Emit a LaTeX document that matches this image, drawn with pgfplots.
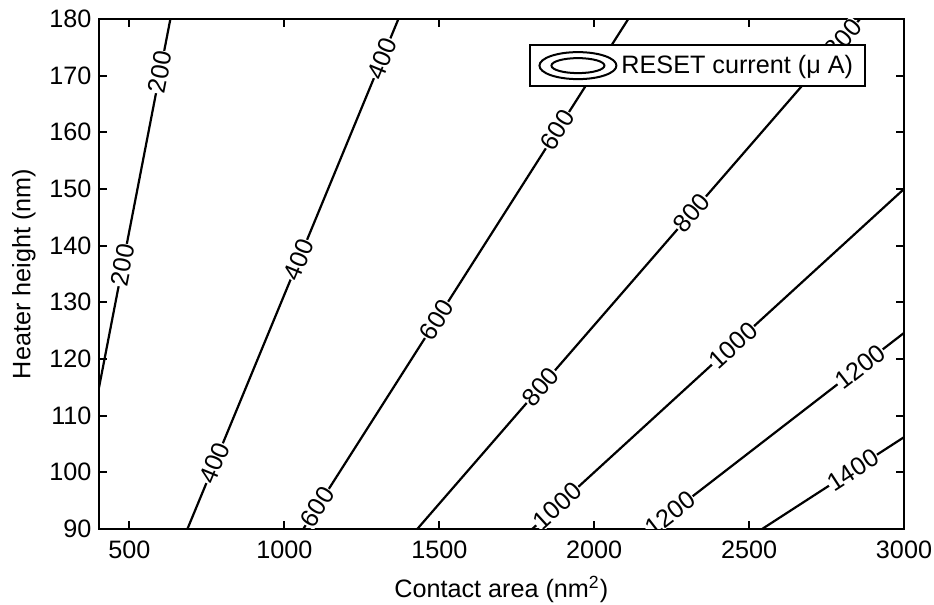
\documentclass[border=0pt]{standalone}
\usepackage{fontspec}
\setmainfont{Liberation Sans}
\usepackage{pgfplots}
\pgfplotsset{compat=1.18}
\tikzset{
  contour/.style={black, line width=1.1pt},
  lab/.style={sloped, fill=white, inner sep=0.2pt, font=\fontsize{12.6}{14}\selectfont},
}
\begin{document}
\begin{tikzpicture}
\begin{axis}[name=ax, scale only axis, width=402.75pt, height=255pt,
  xmin=400, xmax=3000, ymin=90, ymax=180,
  xtick={500,1000,1500,2000,2500,3000}, ytick={90,100,...,180},
  tick align=inside, major tick length=4pt,
  axis line style={line width=1pt},
  major tick style={line width=1pt, black},
  /pgf/number format/assume math mode=true,
  /pgf/number format/set thousands separator={},
  tick label style={font=\fontsize{12.6}{14}\selectfont},
  xticklabel style={yshift=-2.5pt},
  label style={font=\fontsize{12.6}{14}\selectfont},
  xlabel={Contact area (nm\textsuperscript{2})},
  xlabel style={yshift=-2pt},
  ylabel={Heater height (nm)},
  legend style={at={(1,1)}, anchor=north east, xshift=-19pt, yshift=-12.5pt,
    draw=black, line width=1pt, fill=white, font=\fontsize{12.6}{14}\selectfont,
    inner xsep=4pt, inner ysep=3pt},
  legend cell align=left,
  legend image code/.code={
    \draw[line width=1pt] (19.25pt,0pt) ellipse [x radius=19.25pt, y radius=6.75pt];
    \draw[line width=1pt] (19.25pt,0pt) ellipse [x radius=13.25pt, y radius=3.75pt];
  },
]
\addplot[contour] coordinates {(400,114.5) (632,180)}
  node[lab,pos=0.337]{200} node[lab,pos=0.857]{200};
\addlegendentry{RESET current (μ A)}
\addplot[contour, forget plot] coordinates {(687,90) (1368,180)}
  node[lab,pos=0.129]{400} node[lab,pos=0.528]{400} node[lab,pos=0.923]{400};
\addplot[contour, forget plot] coordinates {(1061,90) (2110,180)}
  node[lab,pos=0.043]{600} node[lab,pos=0.41]{600} node[lab,pos=0.782]{600};
\addplot[contour, forget plot] coordinates {(1429,90) (2858,180)}
  node[lab,pos=0.279]{800} node[lab,pos=0.62]{800} node[lab,pos=0.962]{800};
\addplot[contour, forget plot] coordinates {(1800,90) (3000,150)}
  node[lab,pos=0.0675]{1000} node[lab,pos=0.54]{1000};
\addplot[contour, forget plot] coordinates {(2181,90) (3000,124.6)}
  node[lab,pos=0.078]{1200} node[lab,pos=0.827]{1200};
\addplot[contour, forget plot] coordinates {(2542,90) (3000,106.2)}
  node[lab,pos=0.64]{1400};
\end{axis}
\pgfresetboundingbox
\path[use as bounding box] ([xshift=-49.25pt,yshift=-38pt]ax.south west) rectangle ([xshift=15pt,yshift=9.5pt]ax.north east);
\end{tikzpicture}
\end{document}
